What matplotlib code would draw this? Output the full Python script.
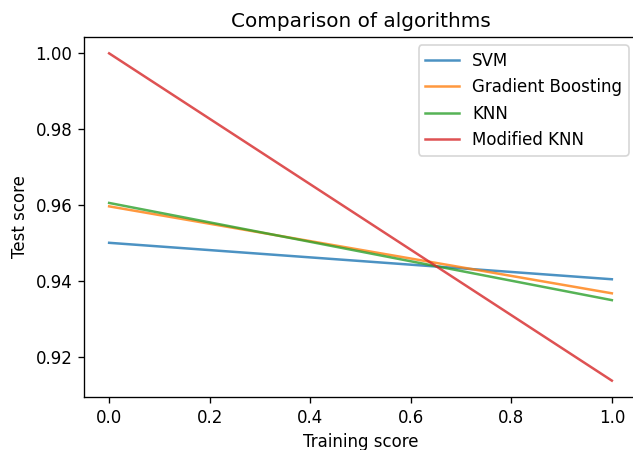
import matplotlib
matplotlib.use("Agg")
import matplotlib.pyplot as plt

training = [0.0, 1.0]
names = ["SVM", "Gradient Boosting", "KNN", "Modified KNN"]
svm = [0.9501, 0.9405]
gb = [0.9597, 0.9368]
knn = [0.9606, 0.9350]
mknn = [1.0000, 0.9138]

fig = plt.figure(figsize=(633 / 120, 450 / 120), dpi=120)
ax = fig.add_axes([0.1327, 0.1178, 0.8736, 0.8])

for vals, name in zip([svm, gb, knn, mknn], names):
    ax.plot(training, vals, label=name, alpha=0.8)

ax.set_title("Comparison of algorithms")
ax.set_xlabel("Training score")
ax.set_ylabel("Test score")
ax.set_yticks([0.92, 0.94, 0.96, 0.98, 1.00])
ax.legend()

fig.savefig("out.png", dpi=120)
